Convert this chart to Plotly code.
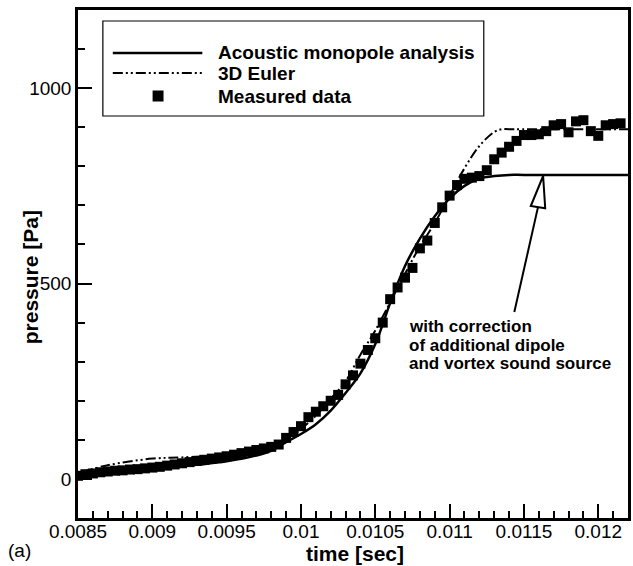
import plotly.graph_objects as go

# ---------------- data ----------------
meas_t = [0.0085, 0.00855, 0.0086, 0.00865, 0.0087, 0.00875, 0.0088, 0.00885, 0.0089, 0.00895,
          0.009, 0.00905, 0.0091, 0.00915, 0.0092, 0.00925, 0.0093, 0.00935, 0.0094, 0.00945,
          0.0095, 0.00955, 0.0096, 0.00965, 0.0097, 0.00975, 0.0098, 0.00985, 0.0099, 0.00995,
          0.01, 0.01005, 0.0101, 0.01015, 0.0102, 0.01025, 0.0103, 0.01035, 0.0104, 0.01045,
          0.0105, 0.01055, 0.0106, 0.01065, 0.0107, 0.01075, 0.0108, 0.01085, 0.0109, 0.01095,
          0.011, 0.01105, 0.0111, 0.01115, 0.0112, 0.01125, 0.0113, 0.01135, 0.0114, 0.01145,
          0.0115, 0.01155, 0.0116, 0.01165, 0.0117, 0.01175, 0.0118, 0.01185, 0.0119, 0.01195,
          0.012, 0.01205, 0.0121, 0.01215]
meas_p = [8, 12, 14, 17, 19, 21, 22, 24, 25, 27,
          29, 31, 34, 37, 40, 43, 46, 49, 52, 55,
          58, 62, 66, 70, 74, 78, 82, 88, 105, 120,
          135, 158, 172, 186, 200, 215, 242, 265, 295, 330,
          360, 400, 460, 490, 515, 540, 590, 610, 655, 695,
          725, 752, 768, 771, 775, 790, 818, 835, 850, 865,
          880, 880, 882, 890, 905, 908, 887, 915, 918, 890,
          878, 905, 908, 910]

mono_t = [0.0085, 0.0087, 0.009, 0.0093, 0.0095, 0.0097, 0.0098, 0.0099, 0.01, 0.0101,
          0.0102, 0.0103, 0.0104, 0.0105, 0.0106, 0.0107, 0.0108, 0.0109, 0.011, 0.0111,
          0.0112, 0.0113, 0.0114, 0.0115, 0.0122]
mono_p = [6, 15, 25, 36, 45, 60, 72, 94, 115, 140,
          175, 220, 270, 345, 450, 545, 615, 672, 718, 750,
          769, 775, 778, 778, 778]

euler_t = [0.0085, 0.0087, 0.009, 0.0092, 0.0095, 0.0097, 0.0098, 0.0099, 0.01, 0.0101,
           0.0102, 0.0103, 0.0104, 0.0105, 0.0106, 0.0107, 0.0108, 0.0109, 0.011, 0.0111,
           0.0112, 0.0113, 0.01135, 0.0114, 0.0122]
euler_p = [15, 35, 52, 55, 62, 72, 82, 100, 128, 162,
           205, 250, 318, 380, 452, 525, 595, 655, 725, 795,
           852, 888, 895, 895, 895]

x_tickvals = [0.0085, 0.009, 0.0095, 0.01, 0.0105, 0.011, 0.0115, 0.012]
x_ticktext = ["0.0085", "0.009", "0.0095", "0.01", "0.0105", "0.011", "0.0115", "0.012"]
y_tickvals = [0, 500, 1000]
y_ticktext = ["0", "500", "1000"]
x_range = [0.0085, 0.0122]
y_range = [-100, 1200]

legend_labels = ["Acoustic monopole analysis", "3D Euler", "Measured data"]
note_lines = ["with correction", "of additional dipole", "and vortex sound source"]
x_title = "time [sec]"
y_title = "pressure [Pa]"
panel_label = "(a)"

# ---------------- layout geometry (pixels) ----------------
W, H = 633, 566
PL, PR, PT, PB = 78, 631, 10, 518
FONT = "Liberation Sans, Arial, Helvetica, sans-serif"
EULER_DASH = "10px,3px,2px,3px,2px,3px"


def fx(px):  # pixel -> paper x
    return (px - PL) / (PR - PL)


def fy(py):  # pixel -> paper y
    return (PB - py) / (PB - PT)


def dx(px):  # pixel -> data x
    return x_range[0] + (px - PL) / (PR - PL) * (x_range[1] - x_range[0])


def dy(py):  # pixel -> data y
    return y_range[0] + (PB - py) / (PB - PT) * (y_range[1] - y_range[0])


fig = go.Figure()
fig.add_trace(go.Scatter(x=mono_t, y=mono_p, mode="lines", line=dict(color="black", width=2.5, shape="spline"),
                         name=legend_labels[0], showlegend=False))
fig.add_trace(go.Scatter(x=euler_t, y=euler_p, mode="lines",
                         line=dict(color="black", width=2, dash=EULER_DASH, shape="spline"),
                         name=legend_labels[1], showlegend=False))
fig.add_trace(go.Scatter(x=meas_t, y=meas_p, mode="markers",
                         marker=dict(symbol="square", size=10, color="black", line=dict(width=0)),
                         name=legend_labels[2], showlegend=False))

shapes = []
annotations = []

# legend box (manual)
shapes.append(dict(type="rect", xref="paper", yref="paper", x0=fx(103), x1=fx(486), y0=fy(116), y1=fy(21),
                   line=dict(color="black", width=1.2), fillcolor="white", layer="above"))
rows = [53, 73, 96]
shapes.append(dict(type="line", xref="paper", yref="paper", x0=fx(113), x1=fx(203), y0=fy(rows[0]), y1=fy(rows[0]),
                   line=dict(color="black", width=2.5), layer="above"))
shapes.append(dict(type="line", xref="paper", yref="paper", x0=fx(113), x1=fx(203), y0=fy(rows[1]), y1=fy(rows[1]),
                   line=dict(color="black", width=2, dash=EULER_DASH), layer="above"))
shapes.append(dict(type="rect", xref="paper", yref="paper", x0=fx(153), x1=fx(164), y0=fy(rows[2] + 5.5),
                   y1=fy(rows[2] - 5.5), line=dict(width=0), fillcolor="black", layer="above"))
for r, lab in zip(rows, legend_labels):
    annotations.append(dict(text="<b>%s</b>" % lab, xref="paper", yref="paper", x=fx(217), y=fy(r),
                            xanchor="left", yanchor="middle", showarrow=False,
                            font=dict(family=FONT, size=19, color="black")))

# note text
for py, line in zip([326.5, 345, 363.5], note_lines):
    annotations.append(dict(text="<b>%s</b>" % line, xref="x", yref="y", x=dx(409), y=dy(py),
                            xanchor="left", yanchor="middle", showarrow=False,
                            font=dict(family=FONT, size=17, color="black")))

# arrow: shaft + hollow head
tip = (545.7, 176)
b1 = (533.3, 206)
b2 = (547.7, 208.3)
tail = (516.7, 312)
bm = ((b1[0] + b2[0]) / 2, (b1[1] + b2[1]) / 2)
shapes.append(dict(type="line", xref="x", yref="y", x0=dx(tail[0]), y0=dy(tail[1]), x1=dx(bm[0]), y1=dy(bm[1]),
                   line=dict(color="black", width=2), layer="above"))
path = "M %f,%f L %f,%f L %f,%f Z" % (dx(tip[0]), dy(tip[1]), dx(b1[0]), dy(b1[1]), dx(b2[0]), dy(b2[1]))
shapes.append(dict(type="path", xref="x", yref="y", path=path, fillcolor="white",
                   line=dict(color="black", width=2), layer="above"))

# axis titles and panel label
annotations.append(dict(text="<b>%s</b>" % x_title, xref="paper", yref="paper", x=fx(357), y=fy(553),
                        xanchor="center", yanchor="middle", showarrow=False,
                        font=dict(family=FONT, size=21, color="black")))
annotations.append(dict(text="<b>%s</b>" % y_title, xref="paper", yref="paper", x=fx(30), y=fy(277),
                        xanchor="center", yanchor="middle", showarrow=False, textangle=-90,
                        font=dict(family=FONT, size=21, color="black")))
annotations.append(dict(text=panel_label, xref="paper", yref="paper", x=fx(19), y=fy(550),
                        xanchor="center", yanchor="middle", showarrow=False,
                        font=dict(family=FONT, size=19, color="black")))

axis_common = dict(showgrid=False, zeroline=False, showline=True, linecolor="black", linewidth=2.5,
                   mirror=True, ticks="inside", tickcolor="black", tickwidth=2, ticklen=14,
                   tickfont=dict(family=FONT, size=19, color="black"))

fig.update_layout(
    width=W, height=H,
    margin=dict(l=PL, r=W - PR, t=PT, b=H - PB, pad=0),
    paper_bgcolor="white", plot_bgcolor="white",
    showlegend=False,
    xaxis=dict(range=x_range, tickmode="array", tickvals=x_tickvals, ticktext=x_ticktext,
               ticklabelstandoff=-6,
               minor=dict(dtick=0.0001, tick0=0.0085, ticks="inside", ticklen=7, tickwidth=1.5, tickcolor="black"),
               **axis_common),
    yaxis=dict(range=y_range, tickmode="array", tickvals=y_tickvals, ticktext=y_ticktext,
               minor=dict(dtick=100, tick0=0, ticks="inside", ticklen=7, tickwidth=1.5, tickcolor="black"),
               **axis_common),
    shapes=shapes,
    annotations=annotations,
)

fig.write_html("out.html", config={"displayModeBar": False},
               post_script="document.body.style.margin='0';document.body.style.padding='0';"
                           "document.body.style.overflow='hidden';")
